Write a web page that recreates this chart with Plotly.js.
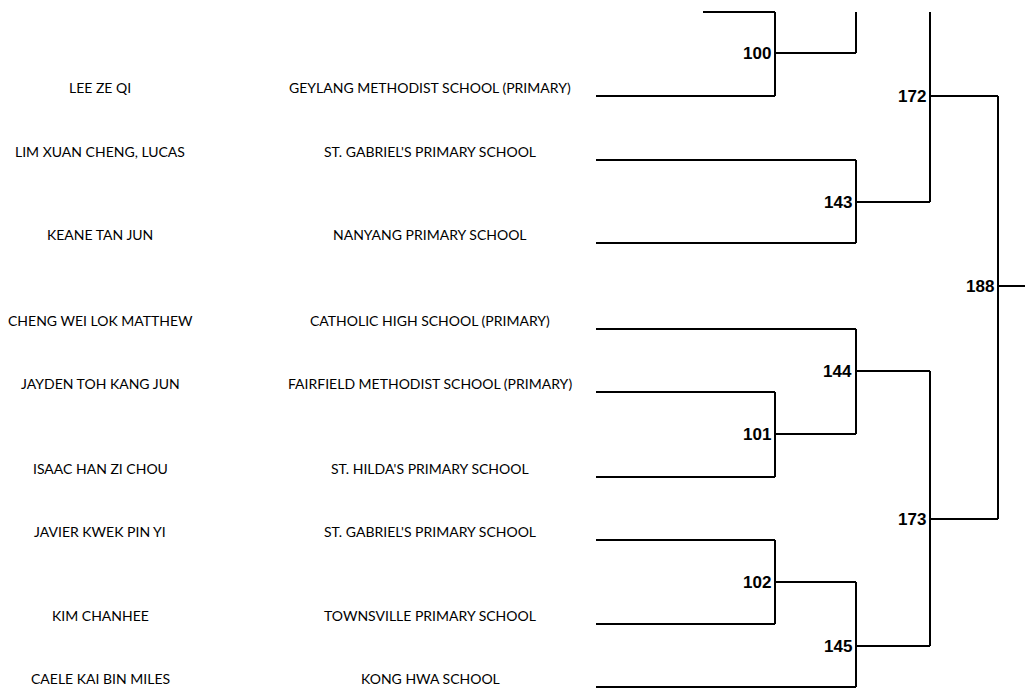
<!DOCTYPE html>
<html>
<head>
<meta charset="utf-8">
<script src="https://cdn.plot.ly/plotly-3.0.1.min.js"></script>
<style>html,body{margin:0;padding:0;background:#fff;}#chart{width:1025px;height:688px;}</style>
</head>
<body>
<div id="chart"></div>
<script>
// ---- Entries (players) ----
const players = ["", "LEE ZE QI", "LIM XUAN CHENG, LUCAS", "KEANE TAN JUN", "CHENG WEI LOK MATTHEW",
  "JAYDEN TOH KANG JUN", "ISAAC HAN ZI CHOU", "JAVIER KWEK PIN YI", "KIM CHANHEE", "CAELE KAI BIN MILES"];
const schools = ["", "GEYLANG METHODIST SCHOOL (PRIMARY)", "ST. GABRIEL'S PRIMARY SCHOOL", "NANYANG PRIMARY SCHOOL",
  "CATHOLIC HIGH SCHOOL (PRIMARY)", "FAIRFIELD METHODIST SCHOOL (PRIMARY)", "ST. HILDA'S PRIMARY SCHOOL",
  "ST. GABRIEL'S PRIMARY SCHOOL", "TOWNSVILLE PRIMARY SCHOOL", "KONG HWA SCHOOL"];
// bracket slot line level of each entry, start column and end column
const entryLevel = [12, 96, 160, 243, 329, 392, 477, 540, 624, 687];
const entryStart = [703, 596, 596, 596, 596, 596, 596, 596, 596, 596];
const entryEnd   = [775, 775, 856, 856, 856, 775, 775, 775, 775, 856];

// ---- Matches ----
const matchIds    = ["", "100", "143", "172", "188", "144", "101", "173", "102", "145"];
const matchCol    = [856, 775, 856, 930, 998, 856, 775, 930, 775, 856];
const matchTop    = [12, 12, 160, 12, 96, 329, 392, 371, 540, 582];
const matchBottom = [53, 96, 243, 202, 519, 434, 477, 646, 624, 687];
const matchOut    = [null, 53, 202, 96, 286, 371, 434, 519, 582, 646];
const matchNext   = [null, 856, 930, 998, 1025, 930, 856, 998, 856, 930];

// ---- build line segments ----
const lx = [], ly = [];
for (let i = 0; i < entryLevel.length; i++) {
  lx.push(entryStart[i], entryEnd[i], null);
  ly.push(entryLevel[i], entryLevel[i], null);
}
for (let i = 0; i < matchIds.length; i++) {
  lx.push(matchCol[i], matchCol[i], null);
  ly.push(matchTop[i], matchBottom[i], null);
  if (matchOut[i] !== null) {
    lx.push(matchCol[i], matchNext[i], null);
    ly.push(matchOut[i], matchOut[i], null);
  }
}

const NAME_X = 100, SCHOOL_X = 430, TEXT_LIFT = 9;
const textFont = {family: "Lato, 'Noto Sans', sans-serif", size: 14, color: "#000"};

const annotations = [];
for (let i = 0; i < players.length; i++) {
  if (!players[i]) continue;
  annotations.push({x: NAME_X, y: entryLevel[i], text: players[i], showarrow: false,
    xanchor: "center", yanchor: "middle", yshift: TEXT_LIFT, font: textFont});
  annotations.push({x: SCHOOL_X, y: entryLevel[i], text: schools[i], showarrow: false,
    xanchor: "center", yanchor: "middle", yshift: TEXT_LIFT, font: textFont});
}
for (let i = 0; i < matchIds.length; i++) {
  if (!matchIds[i]) continue;
  annotations.push({x: matchCol[i], y: matchOut[i], text: "<b>" + matchIds[i] + "</b>", showarrow: false,
    xanchor: "right", yanchor: "middle", xshift: -2,
    font: {family: "'Liberation Sans', Arial, sans-serif", size: 17, color: "#000"}});
}

const data = [{
  x: lx, y: ly, type: "scatter", mode: "lines", hoverinfo: "skip",
  line: {color: "#000", width: 2}, connectgaps: false
}];

const layout = {
  width: 1025, height: 688,
  margin: {l: 0, r: 0, t: 0, b: 0, pad: 0},
  paper_bgcolor: "#fff", plot_bgcolor: "#fff",
  showlegend: false,
  xaxis: {range: [0, 1025], visible: false, fixedrange: true},
  yaxis: {range: [688, 0], visible: false, fixedrange: true},
  annotations: annotations
};

Plotly.newPlot("chart", data, layout, {staticPlot: true, displayModeBar: false});
</script>
</body>
</html>
